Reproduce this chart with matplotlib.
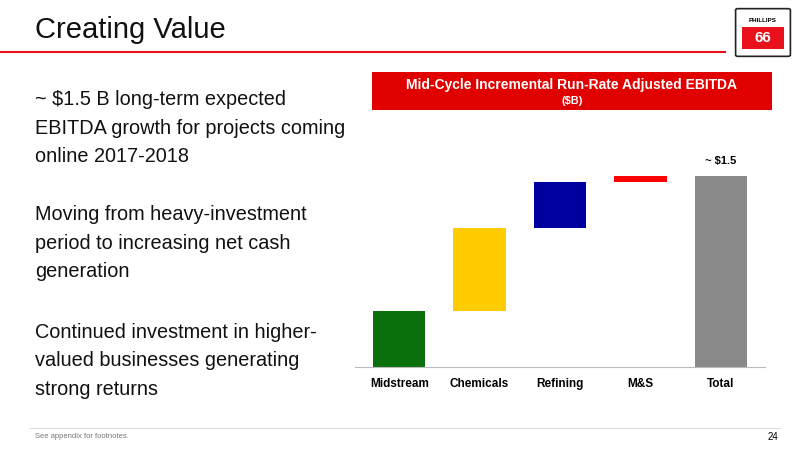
import matplotlib.pyplot as plt
from matplotlib.patches import Rectangle, FancyBboxPatch

plt.rcParams['font.family'] = ['Liberation Sans', 'DejaVu Sans']

# waterfall data ($B)
categories = ['Midstream', 'Chemicals', 'Refining', 'M&S', 'Total']
increments = [0.44, 0.65, 0.36, 0.05]
total = 1.5
colors = ['#0b6f0b', '#ffcc00', '#0000a0', '#ff0000', '#898989']

bullets = ['~ $1.5 B long-term expected\nEBITDA growth for projects coming\nonline 2017-2018',
           'Moving from heavy-investment\nperiod to increasing net cash\ngeneration',
           'Continued investment in higher-\nvalued businesses generating\nstrong returns']

fig = plt.figure(figsize=(8, 4.5), dpi=100)
W, H = 800, 450

def fx(x): return x / W
def fy(y): return 1 - y / H

# title and rule
fig.text(fx(35), fy(30), 'Creating Value', fontsize=21, va='center', ha='left', color='#111111')
fig.add_artist(plt.Line2D([0, fx(725)], [fy(52), fy(52)], color='#e8101a', lw=1.5))

# logo (simple shield)
logo = FancyBboxPatch((fx(738), fy(55)), fx(50), fy(10) - fy(55), boxstyle='round,pad=0.003',
                      transform=fig.transFigure, facecolor='white', edgecolor='#222222', lw=1.2)
fig.add_artist(logo)
fig.add_artist(Rectangle((fx(742), fy(49)), fx(42), fy(27) - fy(49), transform=fig.transFigure,
                         facecolor='#e8101a', edgecolor='none'))
fig.text(fx(763), fy(20), 'PHILLIPS', fontsize=4.5, ha='center', va='center', fontweight='bold')
fig.text(fx(763), fy(38), '66', fontsize=11, ha='center', va='center', color='white', fontweight='bold')

# bullets
for txt, y in zip(bullets, [128, 243, 361]):
    fig.text(fx(35), fy(y), txt, fontsize=14.3, ha='left', va='center', linespacing=1.65, color='#111111')

# header box
fig.add_artist(Rectangle((fx(372), fy(110)), fx(400), fy(72) - fy(110), transform=fig.transFigure,
                         facecolor='#e00000', edgecolor='none'))
fig.text(fx(572), fy(85), 'Mid-Cycle Incremental Run-Rate Adjusted EBITDA', fontsize=10,
         fontweight='bold', color='white', ha='center', va='center')
fig.text(fx(572), fy(101), '($B)', fontsize=8, fontweight='bold', color='white', ha='center', va='center')

# waterfall chart
ax = fig.add_axes([fx(355), fy(367), fx(410), fy(130) - fy(367)])
bottoms = []
running = 0
for v in increments:
    bottoms.append(running)
    running += v
heights = increments + [total]
bottoms.append(0)
x = range(len(categories))
ax.bar(x, heights, bottom=bottoms, width=0.65, color=colors)
ax.set_xlim(-0.55, 4.55)
ax.set_ylim(0, total * 237 / 191)
ax.text(4, total + 0.08, '~ $1.5', ha='center', va='bottom', fontsize=8, fontweight='bold')
ax.set_xticks(list(x))
ax.set_xticklabels(categories, fontsize=8.5, fontweight='bold')
ax.tick_params(axis='x', length=0, pad=8)
ax.set_yticks([])
for s in ['top', 'right', 'left']:
    ax.spines[s].set_visible(False)
ax.spines['bottom'].set_color('#bbbbbb')

# footer
fig.add_artist(plt.Line2D([fx(30), fx(780)], [fy(428), fy(428)], color='#dddddd', lw=0.8))
fig.text(fx(35), fy(437), 'See appendix for footnotes.', fontsize=5.5, color='#777777', va='center')
fig.text(fx(778), fy(437), '24', fontsize=7, ha='right', va='center')

fig.savefig('out.png', dpi=100)
